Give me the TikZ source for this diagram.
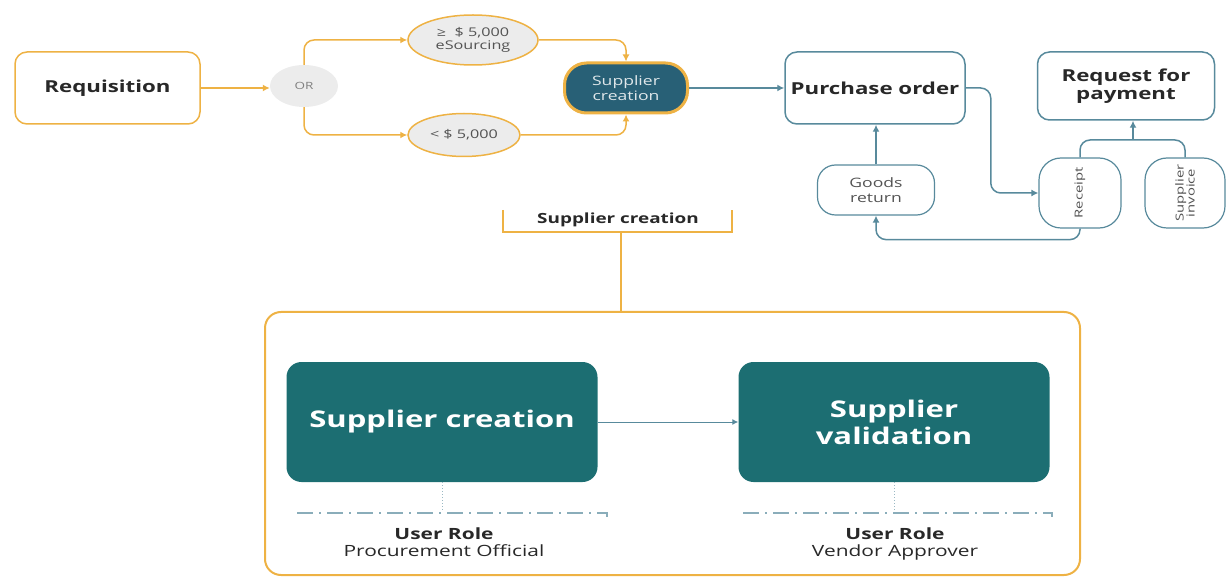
\documentclass[tikz,border=0pt]{standalone}
\usepackage{fontspec}
\setmainfont{Open Sans}[FakeStretch=1.35]
\usetikzlibrary{positioning, arrows.meta, shapes.geometric}

\definecolor{procorange}{RGB}{238,178,68}
\definecolor{procblue}{RGB}{88,138,156}
\definecolor{procdark}{RGB}{40,96,118}
\definecolor{procteal}{RGB}{28,110,114}
\definecolor{procgray}{RGB}{236,236,236}
\definecolor{proctext}{RGB}{40,40,40}

\tikzset{
  stepbox/.style={draw, rounded corners=12pt, line width=1.5pt, fill=white,
    align=center, text=proctext, font=\bfseries\fontsize{16.5}{18}\selectfont},
  orangebox/.style={stepbox, draw=procorange},
  bluebox/.style={stepbox, draw=procblue},
  smallbox/.style={draw=procblue, line width=1.2pt, fill=white, rounded corners=18pt,
    align=center, text=proctext!80, font=\fontsize{13}{15}\selectfont},
  amount/.style={ellipse, draw=procorange, line width=1.5pt, fill=procgray,
    align=center, text=proctext!80, font=\fontsize{12}{13}\selectfont, inner sep=0pt},
  tealbox/.style={fill=procteal, rounded corners=15pt, align=center, text=white,
    font=\bfseries\fontsize{23}{27}\selectfont, minimum width=311, minimum height=120},
  roletext/.style={align=center, text=proctext, text depth=4pt, font=\fontsize{15.5}{17}\selectfont},
  oline/.style={draw=procorange, line width=1.5pt},
  oarrow/.style={oline, -{Latex[length=7pt,width=7pt]}},
  barrow/.style={draw=procblue, line width=1.5pt, -{Latex[length=7pt,width=7pt]}},
  dashrule/.style={draw=procblue!70, line width=1.2pt, dash pattern=on 16pt off 6pt on 2pt off 6pt}
}

\begin{document}
\begin{tikzpicture}[x=1pt, y=-1pt]
  \useasboundingbox (0,0) rectangle (1229,577);

  % upper flow
  \node (req) [orangebox, minimum width=185, minimum height=72] at (107.5,88) {Requisition};
  \node (or) [ellipse, fill=procgray, minimum width=68, minimum height=42, text=gray,
    font=\fontsize{10}{12}\selectfont] at (304,86) {OR};
  \node (esrc) [amount, minimum width=130, minimum height=50] at (473,40) {≥\ \ \$ 5,000\\eSourcing};
  \node (low) [amount, minimum width=112, minimum height=43] at (464,135) {< \$ 5,000};
  \node (supc) [draw=procorange, line width=3pt, fill=procdark, rounded corners=22pt,
    minimum width=123, minimum height=50, align=center, text=white!85!procdark,
    font=\fontsize{13}{15}\selectfont, inner sep=1pt] at (626,88) {Supplier\\creation};
  \node (po) [bluebox, minimum width=180, minimum height=72] at (875,88) {Purchase order};
  \node (rfp) [bluebox, minimum width=177, minimum height=68] at (1126,86) {Request for\\payment};
  \node (rcpt) [smallbox, minimum width=82, minimum height=70, rounded corners=22pt] at (1080,193) {};
  \node [rotate=90, text=proctext!80, font=\fontsize{11}{13}\selectfont] at (rcpt) {Receipt};
  \node (sinv) [smallbox, minimum width=80, minimum height=70, rounded corners=22pt] at (1185,193) {};
  \node [rotate=90, align=center, text=proctext!80, font=\fontsize{11}{11}\selectfont] at (sinv) {Supplier\\invoice};
  \node (gret) [smallbox, minimum width=117, minimum height=50] at (876,190) {Goods\\return};
  \coordinate (mrg) at (1133,140);

  \draw[oarrow] (req.east) -- (req.east -| or.west);
  \draw[oarrow, rounded corners=10pt] (or.north) |- (esrc.west);
  \draw[oarrow, rounded corners=10pt] (or.south) |- (low.west);
  \draw[oarrow, rounded corners=10pt] (esrc.east) -| (supc.north);
  \draw[oarrow, rounded corners=10pt] (low.east) -| (supc.south);
  \draw[barrow] (supc.east) -- (po.west);
  \draw[barrow, rounded corners=10pt] (po.east) -- ++(25,0) |- (rcpt.west);
  \draw[barrow] (gret.north) -- (gret.north |- po.south);
  \draw[barrow, rounded corners=10pt] (rcpt.south) -- ++(0,11) -| (gret.south);
  \draw[draw=procblue, line width=1.5pt, rounded corners=10pt] (rcpt.north) |- (mrg) -| (sinv.north);
  \draw[barrow] (mrg) -- (mrg |- rfp.south);

  % detail of supplier creation
  \node (sclabel) [font=\bfseries\fontsize{14}{16}\selectfont, text=proctext] at (618,220) {Supplier creation};
  \node (detail) [draw=procorange, line width=2pt, rounded corners=16pt,
    minimum width=815, minimum height=263] at (672.5,443.5) {};
  \coordinate (brk) at (621,232);
  \draw[oline] (503,210) |- (732,232) -- (732,210);
  \draw[oline] (brk) -- (brk |- detail.north);

  \node (scb) [tealbox] at (442,422) {Supplier creation};
  \node (svb) [tealbox] at (894,422) {Supplier\\validation};
  \draw[draw=procblue, line width=1pt, -{Latex[length=6pt,width=6pt]}] (scb.east) -- (svb.west);

  \node (role1) [roletext] at (444,544) {\textbf{User Role}\\Procurement Official};
  \node (role2) [roletext] at (895,544) {\textbf{User Role}\\Vendor Approver};
  \foreach \b/\l/\r in {scb/297/607, svb/743/1052} {
    \draw[procblue!60, line width=1pt, dotted] (\b.south) -- ++(0,30);
    \draw[dashrule] (\l,513) -- (\r,513) -- ++(0,4);
  }
\end{tikzpicture}
\end{document}
